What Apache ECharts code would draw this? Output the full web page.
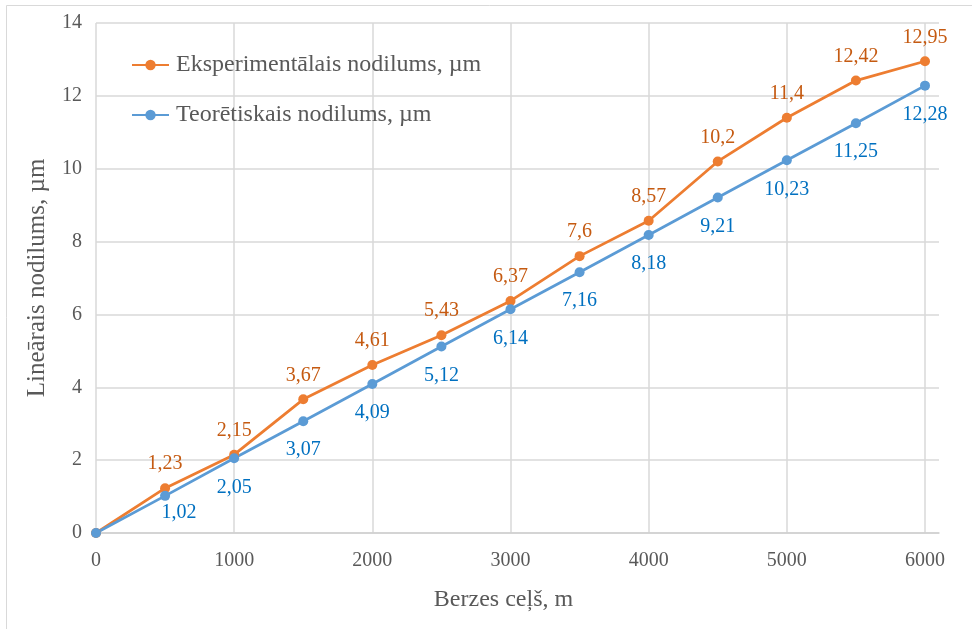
<!DOCTYPE html>
<html>
<head>
<meta charset="utf-8">
<script src="https://cdn.jsdelivr.net/npm/echarts@6/dist/echarts.min.js"></script>
<style>
  html, body { margin: 0; padding: 0; background: #fff; }
  #chart { width: 972px; height: 629px; }
</style>
</head>
<body>
<div id="chart"></div>
<script>
// Friction path (m) and measured / theoretical linear wear (µm)
const distance = [0, 500, 1000, 1500, 2000, 2500, 3000, 3500, 4000, 4500, 5000, 5500, 6000];
const experimental = [0, 1.23, 2.15, 3.67, 4.61, 5.43, 6.37, 7.6, 8.57, 10.2, 11.4, 12.42, 12.95];
const theoretical = [0, 1.02, 2.05, 3.07, 4.09, 5.12, 6.14, 7.16, 8.18, 9.21, 10.23, 11.25, 12.28];
const xTicks = [0, 1000, 2000, 3000, 4000, 5000, 6000];
const yTicks = [0, 2, 4, 6, 8, 10, 12, 14];

const seriesNames = ['Eksperimentālais nodilums, µm', 'Teorētiskais nodilums, µm'];
const xTitle = 'Berzes ceļš, m';
const yTitle = 'Lineārais nodilums, µm';

const FONT = '"Liberation Serif", "Times New Roman", serif';
const AXIS_TEXT = '#595959';
const GRID_LINE = '#d9d9d9';

const commaLabel = p => (p.value[1] === 0 ? '' : String(p.value[1]).replace('.', ','));

function pairs(values) {
  return values.map((v, i) => [distance[i], v]);
}

// the second theoretical label sits a little right of its point, clear of the line
const theoData = pairs(theoretical).map((pt, i) =>
  i === 1 ? { value: pt, label: { offset: [14, -12] } } : pt
);

const chart = echarts.init(document.getElementById('chart'), null, { renderer: 'canvas' });

chart.setOption({
  animation: false,
  backgroundColor: '#fff',
  textStyle: { fontFamily: FONT },
  graphic: [{
    type: 'rect',
    silent: true,
    shape: { x: 6.5, y: 5.5, width: 1200, height: 1200 },
    style: { fill: 'none', stroke: '#d9d9d9', lineWidth: 1 }
  }],
  legend: {
    orient: 'vertical',
    left: 126,
    top: 48,
    itemGap: 26,
    itemWidth: 37,
    itemHeight: 13,
    textStyle: { fontFamily: FONT, fontSize: 24, color: AXIS_TEXT, padding: [0, 0, 0, 2] },
    data: seriesNames
  },
  grid: [
    // full plot frame: horizontal gridlines and bottom axis line
    { left: 96, right: 33, top: 23, bottom: 96, containLabel: false },
    // data area: 0..6000 m
    { left: 96, right: 47, top: 23, bottom: 96, containLabel: false }
  ],
  xAxis: [
    {
      type: 'value', gridIndex: 0, min: 0, max: 1,
      axisLine: { show: true, lineStyle: { color: '#cfcfcf', width: 1.5 } },
      axisTick: { show: false }, axisLabel: { show: false }, splitLine: { show: false }
    },
    {
      type: 'value', gridIndex: 1,
      min: xTicks[0], max: xTicks[xTicks.length - 1], interval: xTicks[1] - xTicks[0],
      name: xTitle, nameLocation: 'middle', nameGap: 55,
      nameTextStyle: { fontFamily: FONT, fontSize: 24, color: AXIS_TEXT, padding: [0, 14, 0, 0] },
      axisLine: { show: false }, axisTick: { show: false },
      axisLabel: { fontFamily: FONT, fontSize: 20, color: AXIS_TEXT, margin: 18, formatter: v => String(v) },
      splitLine: { show: true, lineStyle: { color: GRID_LINE, width: 1.5 } }
    }
  ],
  yAxis: [
    {
      type: 'value', gridIndex: 0,
      min: yTicks[0], max: yTicks[yTicks.length - 1], interval: yTicks[1] - yTicks[0],
      name: yTitle, nameLocation: 'middle', nameGap: 46,
      nameTextStyle: { fontFamily: FONT, fontSize: 25, color: AXIS_TEXT },
      axisLine: { show: false }, axisTick: { show: false },
      axisLabel: { fontFamily: FONT, fontSize: 20, color: AXIS_TEXT, margin: 14 },
      splitLine: { show: true, lineStyle: { color: GRID_LINE, width: 1.5 } }
    },
    {
      type: 'value', gridIndex: 1,
      min: yTicks[0], max: yTicks[yTicks.length - 1], interval: yTicks[1] - yTicks[0],
      show: false, splitLine: { show: false }
    }
  ],
  series: [
    {
      name: seriesNames[0],
      type: 'line',
      xAxisIndex: 1, yAxisIndex: 1,
      data: pairs(experimental),
      symbol: 'circle', symbolSize: 10,
      itemStyle: { color: '#ED7D31' },
      lineStyle: { color: '#ED7D31', width: 2.75 },
      label: {
        show: true, position: 'top', distance: 9,
        fontFamily: FONT, fontSize: 20, color: '#C55A11',
        formatter: commaLabel
      }
    },
    {
      name: seriesNames[1],
      type: 'line',
      xAxisIndex: 1, yAxisIndex: 1,
      data: theoData,
      symbol: 'circle', symbolSize: 10,
      itemStyle: { color: '#5B9BD5' },
      lineStyle: { color: '#5B9BD5', width: 2.75 },
      label: {
        show: true, position: 'bottom', distance: 14,
        fontFamily: FONT, fontSize: 20, color: '#0070C0',
        formatter: commaLabel
      }
    }
  ]
});
</script>
</body>
</html>
